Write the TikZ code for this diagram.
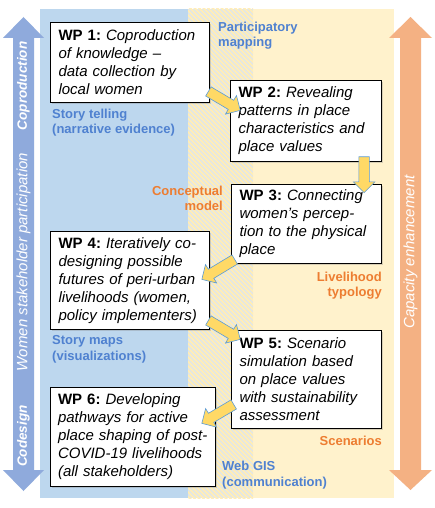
\documentclass[tikz,border=0pt]{standalone}
\usepackage{fontspec}
\setmainfont{Liberation Sans}
\usetikzlibrary{shapes.arrows,shadows,calc}

\definecolor{bandblue}{HTML}{BDD7EE}
\definecolor{bandyellow}{HTML}{FFF2CC}
\definecolor{hatchbase}{HTML}{D9E5F3}
\definecolor{hatchline}{HTML}{FFEDB8}
\definecolor{arrowblue}{HTML}{8FAADC}
\definecolor{arroworange}{HTML}{F4B183}
\definecolor{textblue}{HTML}{4F81D0}
\definecolor{textorange}{HTML}{ED7D31}
\definecolor{flowfill}{HTML}{FFD966}
\definecolor{flowline}{HTML}{5B9BD5}

\newcommand{\wpno}[1]{\textbf{\upshape WP #1:}}

\begin{document}
\begin{tikzpicture}[x=1pt,y=-1pt]
\tikzstyle{wpbox}=[
	draw, line width=1.1pt, fill=white,
	anchor=north west, align=left,
	inner xsep=8pt, inner ysep=0pt,
	font=\itshape\fontsize{15}{18}\selectfont\frenchspacing,
	drop shadow={shadow xshift=1.2pt, shadow yshift=-1.2pt, opacity=0.3} ]
\tikzstyle{bluelabel}=[inner sep=0pt, align=left, anchor=west, text=textblue,
	font=\bfseries\fontsize{13}{15.5}\selectfont]
\tikzstyle{orangelabel}=[inner sep=0pt, align=right, anchor=east, text=textorange,
	font=\bfseries\fontsize{13}{15.5}\selectfont]
\tikzstyle{sidetext}=[rotate=90, text=white, inner sep=0pt,
	font=\itshape\fontsize{15}{18}\selectfont]
\tikzstyle{sidebold}=[sidetext, font=\bfseries\itshape\fontsize{13.5}{16}\selectfont]
\tikzstyle{flow}=[single arrow, draw=flowline, fill=flowfill, line width=0.6pt,
	inner sep=5pt, single arrow head extend=5.5pt, single arrow head indent=0pt]

\useasboundingbox (0,0) rectangle (435,508);
\fill[white] (0,0) rectangle (435,508);

% bands
\fill[bandblue] (40,9) rectangle (188,498);
\fill[bandyellow] (253,9) rectangle (394,498);
\begin{scope}
	\clip (188,9) rectangle (253,498);
	\fill[hatchbase] (188,9) rectangle (253,498);
	\foreach \s in {-340,-335.5,...,260}
		\draw[hatchline, line width=1.9pt] (\s,0) -- ++(520,520);
\end{scope}

% side arrows
\fill[arrowblue] (23.5,17) -- (44,38) -- (34,38) -- (34,470) -- (44,470) -- (23.5,491)
	-- (3,470) -- (13,470) -- (13,38) -- (3,38) -- cycle;
\fill[arroworange] (410.5,17) -- (432,38) -- (421,38) -- (421,470) -- (432,470) -- (410.5,490)
	-- (389,470) -- (400,470) -- (400,38) -- (389,38) -- cycle;
\node[sidebold] (coprod) at (23.5,86) {Coproduction};
\node[sidetext] (women) at (23.5,262) {Women stakeholder participation};
\node[sidebold] (codesign) at (23.5,436) {Codesign};
\node[sidetext] (capacity) at (410.5,252) {Capacity enhancement};

% method labels
\node[bluelabel] (mapping) at (218,35.5) {Participatory\\mapping};
\node[bluelabel] (storytelling) at (52,122.5) {Story telling\\(narrative evidence)};
\node[orangelabel] (concept) at (223,198.5) {Conceptual\\model};
\node[orangelabel] (typology) at (382,285.5) {Livelihood\\typology};
\node[bluelabel] (storymaps) at (52,349.5) {Story maps\\(visualizations)};
\node[orangelabel] (scenarios) at (382,441) {Scenarios};
\node[bluelabel] (webgis) at (222,475) {Web GIS\\(communication)};

% work packages
\node[wpbox, text width=143pt, minimum height=80pt] (wp1) at (50,22)
	{\wpno{1} Coproduction\\of knowledge –\\data collection by\\local women};
\node[wpbox, text width=135pt, minimum height=81pt] (wp2) at (230,80)
	{\wpno{2} Revealing\\patterns in place\\characteristics and\\place values};
\node[wpbox, text width=134pt, minimum height=79pt] (wp3) at (231,184)
	{\wpno{3} Connecting\\women’s percep-\\tion to the physical\\place};
\node[wpbox, text width=143pt, minimum height=98pt] (wp4) at (50,231)
	{\wpno{4} Iteratively co-\\designing possible\\futures of peri-urban\\livelihoods (women,\\policy implementers)};
\node[wpbox, text width=134pt, minimum height=98pt] (wp5) at (231,330)
	{\wpno{5} Scenario\\simulation based\\on place values\\with sustainability\\assessment};
\node[wpbox, text width=150pt, inner xsep=7.5pt, minimum height=99pt] (wp6) at (50,387)
	{\wpno{6} Developing\\pathways for active\\place shaping of post-\\COVID-19 livelihoods\\(all stakeholders)};

% flow between work packages
\coordinate (t1) at ([shift={(-4,-13)}]wp1.south east);
\coordinate (h1) at ([shift={(8,29)}]wp2.north west);
\coordinate (t2) at ([shift={(-18,-8)}]wp2.south east);
\coordinate (h2) at ([shift={(-18,6)}]wp3.north east);
\coordinate (t3) at ([shift={(6,-6)}]wp3.south west);
\coordinate (h3) at ([shift={(-6,47)}]wp4.north east);
\coordinate (t4) at ([shift={(-4,-11)}]wp4.south east);
\coordinate (h4) at ([shift={(7,8)}]wp5.north west);
\coordinate (t5) at ([shift={(5,-26)}]wp5.south west);
\coordinate (h5) at ([shift={(-12,35)}]wp6.north east);
\foreach \i in {1,...,5}
	\path let \p1=($(h\i)-(t\i)$), \n1={atan2(\y1,\x1)}, \n2={veclen(\x1,\y1)} in
		node[flow, minimum height=\n2, rotate=\n1] at ($(t\i)!0.5!(h\i)$) {};
\end{tikzpicture}
\end{document}
